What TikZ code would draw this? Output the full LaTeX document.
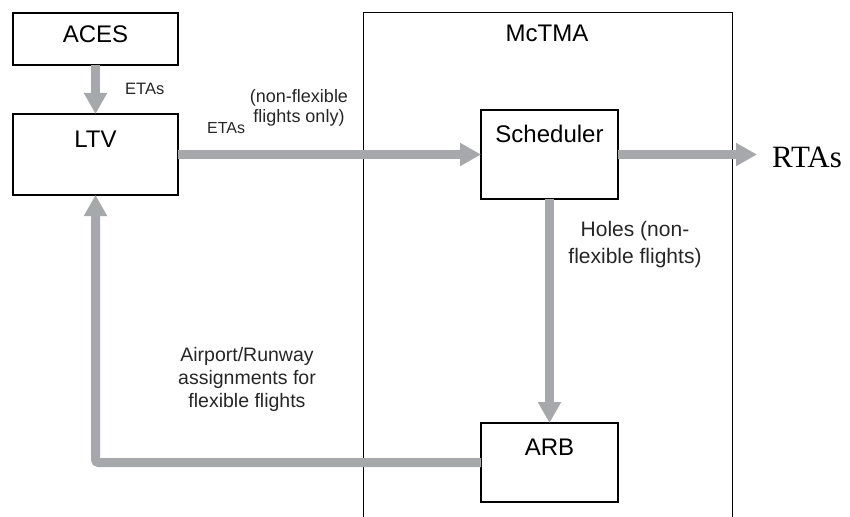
\documentclass[tikz,border=0pt]{standalone}
\usepackage{fontspec}
\setmainfont{Liberation Sans}
\newfontfamily\rtafont{Liberation Serif}
\usetikzlibrary{arrows.meta}
\definecolor{flowgray}{RGB}{166,168,171}
\begin{document}
\begin{tikzpicture}[x=1pt,y=-1pt,
  block/.style={draw=black, line width=1.3pt, inner sep=0pt, outer sep=0pt},
  boxtext/.style={anchor=base, inner sep=0pt, font=\fontsize{24}{28}\selectfont},
  flow/.style={draw=flowgray, line width=9pt,
    -{Triangle[length=21pt,width=22pt]}},
  note/.style={align=center, inner sep=0pt, text=black!85},
]
\useasboundingbox (0,0) rectangle (850,516);

% McTMA container (open at the bottom edge)
\draw[line width=1pt] (363,520) -- (363,13) -- (732,13) -- (732,520);
\node[boxtext] (mctmalabel) at (547,42) {McTMA};

% blocks
\node[block, minimum width=165pt, minimum height=52pt] (aces) at (95.5,39) {};
\node[block, minimum width=165pt, minimum height=81pt] (ltv) at (95.5,154.5) {};
\node[block, minimum width=137pt, minimum height=89pt] (sched) at (549.5,154.5) {};
\node[block, minimum width=137pt, minimum height=79pt] (arb) at (549.5,462.5) {};

\node[boxtext] (acestext) at ([yshift=-30pt]aces.north) {ACES};
\node[boxtext] (ltvtext) at ([yshift=-33pt]ltv.north) {LTV};
\node[boxtext] (schedtext) at ([yshift=-32pt]sched.north) {Scheduler};
\node[boxtext] (arbtext) at ([yshift=-32pt]arb.north) {ARB};

\node[anchor=base west, inner sep=0pt, font=\rtafont\fontsize{31}{34}\selectfont]
  (rtas) at (772,167) {RTAs};
\coordinate (rtatip) at (757,154.5);

% flows
\draw[flow] (aces.south) -- (ltv.north);
\draw[flow] (ltv.east) -- (sched.west);
\draw[flow] (sched.east) -- (rtatip);
\draw[flow] (sched.south) -- (arb.north);
\draw[flow, rounded corners=3pt] (arb.west) -| (ltv.south);

% flow labels
\node[note, anchor=base west, font=\fontsize{16.5}{18}\selectfont]
  (etas1) at (125,95) {ETAs};
\node[note, anchor=base west, font=\fontsize{16}{18}\selectfont]
  (etas2) at (207,133) {ETAs};
\node[note, anchor=base, font=\fontsize{18}{20}\selectfont]
  (nonflex) at (299,122) {(non-flexible\\flights only)};
\node[note, anchor=base, font=\fontsize{21}{27}\selectfont]
  (holes) at (635,263) {Holes (non-\\flexible flights)};
\node[note, anchor=base, font=\fontsize{19.5}{23}\selectfont]
  (assign) at (247,407) {Airport/Runway\\assignments for\\flexible flights};
\end{tikzpicture}
\end{document}
